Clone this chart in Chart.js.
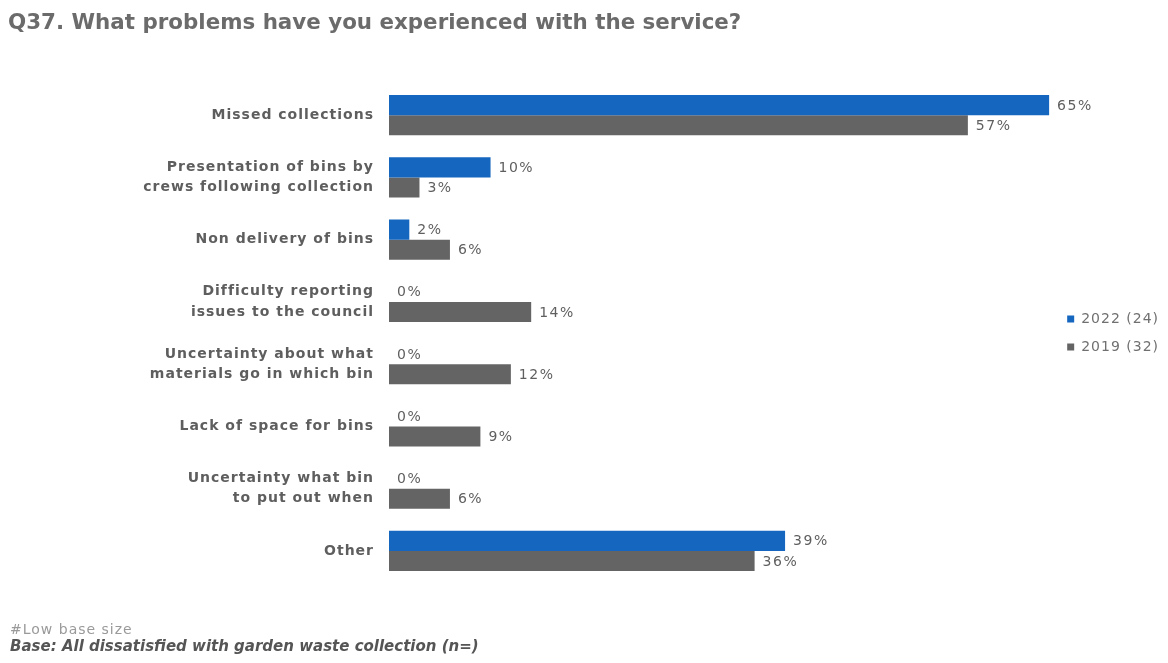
<!DOCTYPE html>
<html>
<head>
<meta charset="utf-8">
<script src="https://cdn.jsdelivr.net/npm/chart.js@4.4.1/dist/chart.umd.min.js"></script>
<style>
  html, body { margin: 0; padding: 0; background: #ffffff; }
  #wrap { position: relative; width: 1168px; height: 663px; overflow: hidden; }
  #chart { position: absolute; left: 0; top: 0; }
  .title { position: absolute; left: 8px; top: 9px; font-family: "DejaVu Sans", sans-serif; font-weight: bold; font-size: 21.4px; color: #6b6b6b; white-space: nowrap; }
  .note { position: absolute; left: 10px; top: 621px; font-family: "DejaVu Sans", sans-serif; font-size: 14px; letter-spacing: 1px; color: #9a9a9a; white-space: nowrap; }
  .base { position: absolute; left: 10px; top: 637px; font-family: "DejaVu Sans", sans-serif; font-weight: bold; font-style: italic; font-size: 15px; color: #555555; white-space: nowrap; }
</style>
</head>
<body>
<div id="wrap">
  <canvas id="chart" width="1168" height="663"></canvas>
  <div class="title">Q37. What problems have you experienced with the service?</div>
  <div class="note">#Low base size</div>
  <div class="base">Base: All dissatisfied with garden waste collection (n=)</div>
</div>
<script>
// Problem categories, top to bottom
const categories = [
  'Missed collections',
  ['Presentation of bins by', 'crews following collection'],
  'Non delivery of bins',
  ['Difficulty reporting', 'issues to the council'],
  ['Uncertainty about what', 'materials go in which bin'],
  'Lack of space for bins',
  ['Uncertainty what bin', 'to put out when'],
  'Other'
];
// Percentage of respondents per year
const values2022 = [65, 10, 2, 0, 0, 0, 0, 39];
const values2019 = [57, 3, 6, 14, 12, 9, 6, 36];
const seriesNames = ['2022 (24)', '2019 (32)'];

// Slightly open letter spacing for all chart text
const spacing = {
  id: 'spacing',
  beforeDraw(chart) { chart.ctx.save(); chart.ctx.letterSpacing = '1px'; },
  afterDraw(chart) { chart.ctx.restore(); }
};

// Writes "NN%" just past the end of each bar
const valueLabels = {
  id: 'valueLabels',
  afterDatasetsDraw(chart) {
    const ctx = chart.ctx;
    ctx.save();
    ctx.font = '14px "DejaVu Sans", sans-serif';
    ctx.letterSpacing = '1.5px';
    ctx.fillStyle = '#5f5f5f';
    ctx.textAlign = 'left';
    ctx.textBaseline = 'middle';
    chart.data.datasets.forEach((ds, i) => {
      chart.getDatasetMeta(i).data.forEach((bar, j) => {
        ctx.fillText(ds.data[j] + '%', bar.x + 8, bar.y + 1);
      });
    });
    ctx.restore();
  }
};

new Chart(document.getElementById('chart'), {
  type: 'bar',
  data: {
    labels: categories,
    datasets: [
      { label: seriesNames[0], data: values2022, backgroundColor: '#1466bf' },
      { label: seriesNames[1], data: values2019, backgroundColor: '#646464' }
    ]
  },
  options: {
    indexAxis: 'y',
    responsive: false,
    animation: false,
    layout: { padding: { left: 0, top: 84, bottom: 81, right: 8 } },
    datasets: { bar: { categoryPercentage: 0.65, barPercentage: 1.0 } },
    scales: {
      x: {
        display: false,
        min: 0,
        max: 65.4
      },
      y: {
        afterFit(scale) { scale.width = 389; },
        grid: { display: false, drawTicks: false },
        border: { display: false },
        ticks: {
          padding: 15,
          color: '#5e5e5e',
          font: { family: '"DejaVu Sans", sans-serif', size: 14, weight: 'bold', lineHeight: 1.45 }
        }
      }
    },
    plugins: {
      legend: {
        position: 'right',
        align: 'center',
        labels: {
          boxWidth: 7,
          boxHeight: 7,
          padding: 14,
          color: '#707070',
          font: { family: '"DejaVu Sans", sans-serif', size: 14 }
        }
      },
      tooltip: { enabled: false }
    }
  },
  plugins: [spacing, valueLabels]
});
</script>
</body>
</html>
